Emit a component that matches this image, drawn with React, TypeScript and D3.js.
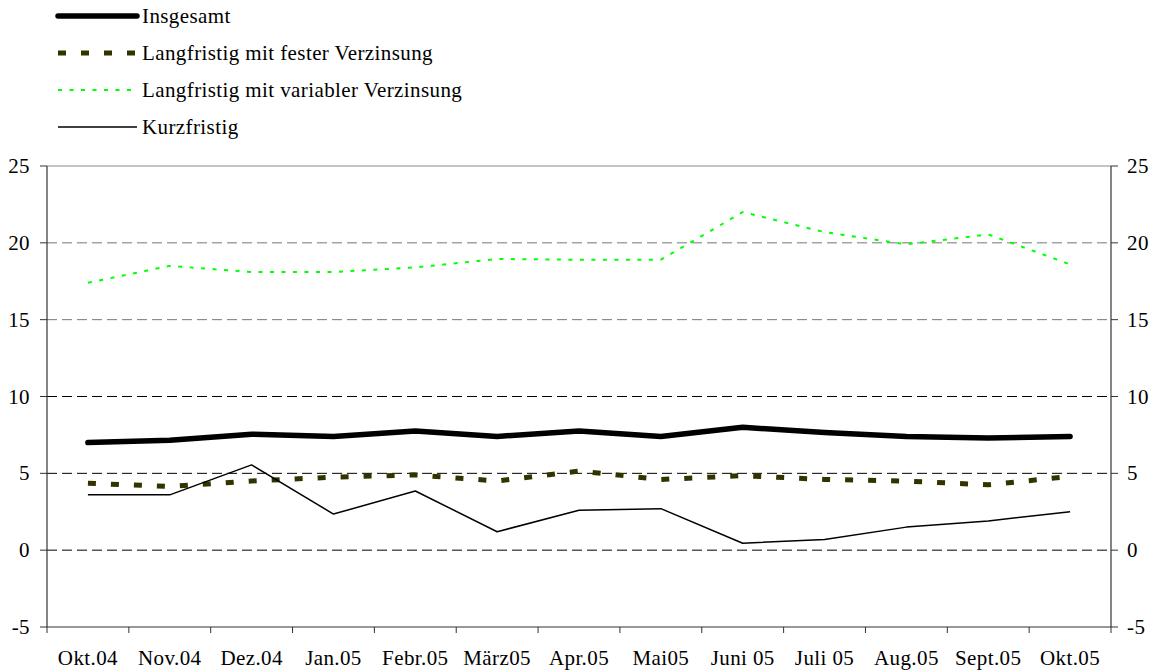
import React from 'react';
import * as d3 from 'd3';

const categories = ['Okt.04', 'Nov.04', 'Dez.04', 'Jan.05', 'Febr.05', 'März05', 'Apr.05', 'Mai05', 'Juni 05', 'Juli 05', 'Aug.05', 'Sept.05', 'Okt.05'];
const insgesamt = [7.0, 7.15, 7.55, 7.4, 7.75, 7.4, 7.75, 7.4, 8.0, 7.65, 7.4, 7.3, 7.4];
const fester = [4.35, 4.15, 4.5, 4.75, 4.9, 4.5, 5.15, 4.6, 4.85, 4.6, 4.5, 4.25, 4.8];
const variabel = [17.4, 18.5, 18.1, 18.1, 18.4, 18.95, 18.9, 18.9, 22.0, 20.7, 19.9, 20.55, 18.6];
const kurzfristig = [3.6, 3.6, 5.55, 2.35, 3.85, 1.2, 2.6, 2.7, 0.45, 0.7, 1.5, 1.9, 2.5];
const yTicks = [-5, 0, 5, 10, 15, 20, 25];
const gridTicks = [0, 5, 10, 15, 20];

const series = [
  { name: 'Insgesamt', values: insgesamt, color: '#000000', width: 5.5, dash: '', cap: 'round' },
  { name: 'Langfristig mit fester Verzinsung', values: fester, color: '#333300', width: 5, dash: '8,15', cap: 'butt' },
  { name: 'Langfristig mit variabler Verzinsung', values: variabel, color: '#00ff00', width: 2, dash: '4,7.5', cap: 'butt' },
  { name: 'Kurzfristig', values: kurzfristig, color: '#000000', width: 1.5, dash: '', cap: 'butt' },
];

const W = 1157;
const H = 671;
const plot = { left: 47, right: 1111, top: 166, bottom: 627 };
const txt = { fontFamily: "'Liberation Serif', 'Times New Roman', serif", fontSize: '21px', letterSpacing: '0.4px' };

export default function App() {
  const x = d3.scaleBand<string>().domain(categories).range([plot.left, plot.right]).padding(0);
  const y = d3.scaleLinear().domain([-5, 25]).range([plot.bottom, plot.top]);
  const cx = (c: string) => (x(c) ?? 0) + x.bandwidth() / 2;
  const line = d3.line<number>().x((_, i) => cx(categories[i])).y(d => y(d));

  const boundaries = categories.map(c => x(c) ?? 0).concat([plot.right]);

  return (
    <svg width={W} height={H} style={{ position: 'absolute', left: 0, top: 0, background: '#fff' }}>
      {/* legend */}
      {series.map((s, i) => {
        const ly = 16 + i * 37;
        return (
          <g key={s.name}>
            <line x1={58} x2={137} y1={ly} y2={ly} stroke={s.color} strokeWidth={s.width}
              strokeDasharray={s.dash || undefined} strokeLinecap={s.cap as any} />
            <text x={142} y={ly + 7} style={txt} fill="#000">{s.name}</text>
          </g>
        );
      })}

      {/* top border */}
      <line x1={plot.left} x2={plot.right} y1={y(25)} y2={y(25)} stroke="#888" strokeWidth={1} />
      {/* grid */}
      {gridTicks.map(t => (
        <line key={t} x1={plot.left} x2={plot.right} y1={y(t)} y2={y(t)}
          stroke={t >= 15 ? '#777' : '#000'} strokeWidth={1} strokeDasharray="10,5" />
      ))}
      {/* axes */}
      <line x1={plot.left} x2={plot.left} y1={plot.top} y2={plot.bottom} stroke="#333" strokeWidth={1.2} />
      <line x1={plot.right} x2={plot.right} y1={plot.top} y2={plot.bottom} stroke="#333" strokeWidth={1.2} />
      <line x1={plot.left} x2={plot.right} y1={plot.bottom} y2={plot.bottom} stroke="#333" strokeWidth={1.2} />
      {yTicks.map(t => (
        <g key={t}>
          <line x1={plot.left - 7} x2={plot.left} y1={y(t)} y2={y(t)} stroke="#333" />
          <line x1={plot.right} x2={plot.right + 7} y1={y(t)} y2={y(t)} stroke="#333" />
          <text x={30} y={y(t) + 7} textAnchor="end" style={txt}>{t}</text>
          <text x={1127} y={y(t) + 7} style={txt}>{t}</text>
        </g>
      ))}
      {boundaries.map((b, i) => (
        <line key={i} x1={b} x2={b} y1={plot.bottom} y2={plot.bottom + 6} stroke="#333" />
      ))}
      {categories.map(c => (
        <text key={c} x={cx(c)} y={665} textAnchor="middle" style={txt}>{c}</text>
      ))}

      {/* series */}
      {series.map(s => (
        <path key={s.name} d={line(s.values) ?? ''} fill="none" stroke={s.color} strokeWidth={s.width}
          strokeDasharray={s.dash || undefined} strokeLinecap={s.cap as any} strokeLinejoin="round" />
      ))}
    </svg>
  );
}
